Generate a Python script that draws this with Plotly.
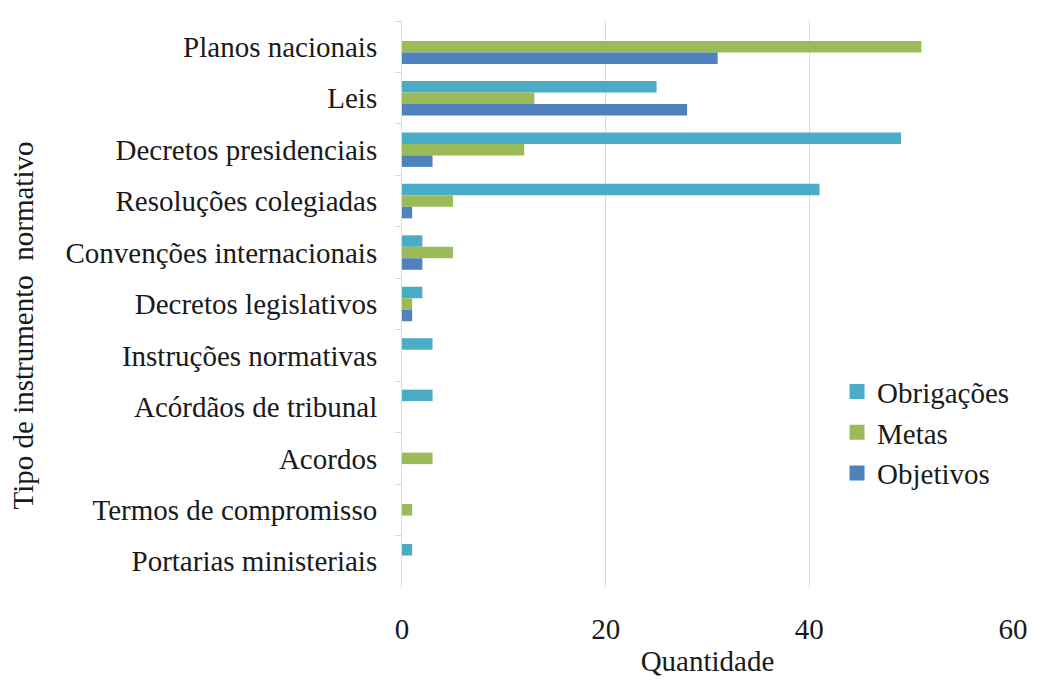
import plotly.graph_objects as go

categories = [
    "Planos nacionais", "Leis", "Decretos presidenciais", "Resoluções colegiadas",
    "Convenções internacionais", "Decretos legislativos", "Instruções normativas",
    "Acórdãos de tribunal", "Acordos", "Termos de compromisso", "Portarias ministeriais",
]
obrigacoes = [0, 25, 49, 41, 2, 2, 3, 3, 0, 0, 1]
metas = [51, 13, 12, 5, 5, 1, 0, 0, 3, 1, 0]
objetivos = [31, 28, 3, 1, 2, 1, 0, 0, 0, 0, 0]
series_names = ["Obrigações", "Metas", "Objetivos"]
x_ticks = [0, 20, 40, 60]

FONT = "'Liberation Serif', 'Times New Roman', Times, serif"
SIZE = 29
TXT = "#1a1a1a"
colors = ["#4BACC6", "#9BBB59", "#4F81BD"]

fig = go.Figure()
for name, vals, col in zip(series_names, [obrigacoes, metas, objetivos], colors):
    fig.add_trace(go.Bar(y=categories, x=vals, name=name, orientation="h",
                         marker=dict(color=col, line=dict(width=0)), showlegend=False))
# legend entries with larger square swatches
for name, col in zip(series_names, colors):
    fig.add_trace(go.Scatter(x=[None], y=[None], mode="markers", name=name,
                             marker=dict(symbol="square", size=15, color=col),
                             showlegend=True))

fig.update_layout(
    width=1040, height=683,
    margin=dict(l=402, r=18, t=21, b=89),
    paper_bgcolor="white", plot_bgcolor="white",
    barmode="group", bargap=0.33, bargroupgap=0,
    font=dict(family=FONT, size=SIZE, color=TXT),
    showlegend=True,
    legend=dict(x=0.712, y=0.39, xanchor="left", yanchor="top",
                font=dict(family=FONT, size=SIZE, color=TXT),
                bgcolor="rgba(0,0,0,0)", traceorder="normal",
                itemwidth=30, tracegroupgap=0),
    xaxis=dict(range=[0, 60], tickvals=x_ticks, showgrid=True, gridcolor="#d9d9d9",
               gridwidth=1, zeroline=False, showline=False, ticks="",
               ticklabelstandoff=22,
               tickfont=dict(family=FONT, size=SIZE, color=TXT),
               title=dict(text="Quantidade", standoff=6,
                          font=dict(family=FONT, size=SIZE, color=TXT))),
    yaxis=dict(autorange="reversed", showgrid=False, zeroline=False,
               showline=True, linecolor="#d9d9d9", linewidth=1,
               ticks="outside", tickson="boundaries", ticklen=6, tickcolor="#d9d9d9",
               ticklabelstandoff=18,
               tickfont=dict(family=FONT, size=SIZE, color=TXT)),
)

fig.add_annotation(text="Tipo de instrumento  normativo", textangle=-90,
                   xref="paper", yref="paper", x=-0.62, y=0.4625,
                   xanchor="center", yanchor="middle",
                   showarrow=False, font=dict(family=FONT, size=SIZE, color=TXT))

fig.write_html("out.html")
